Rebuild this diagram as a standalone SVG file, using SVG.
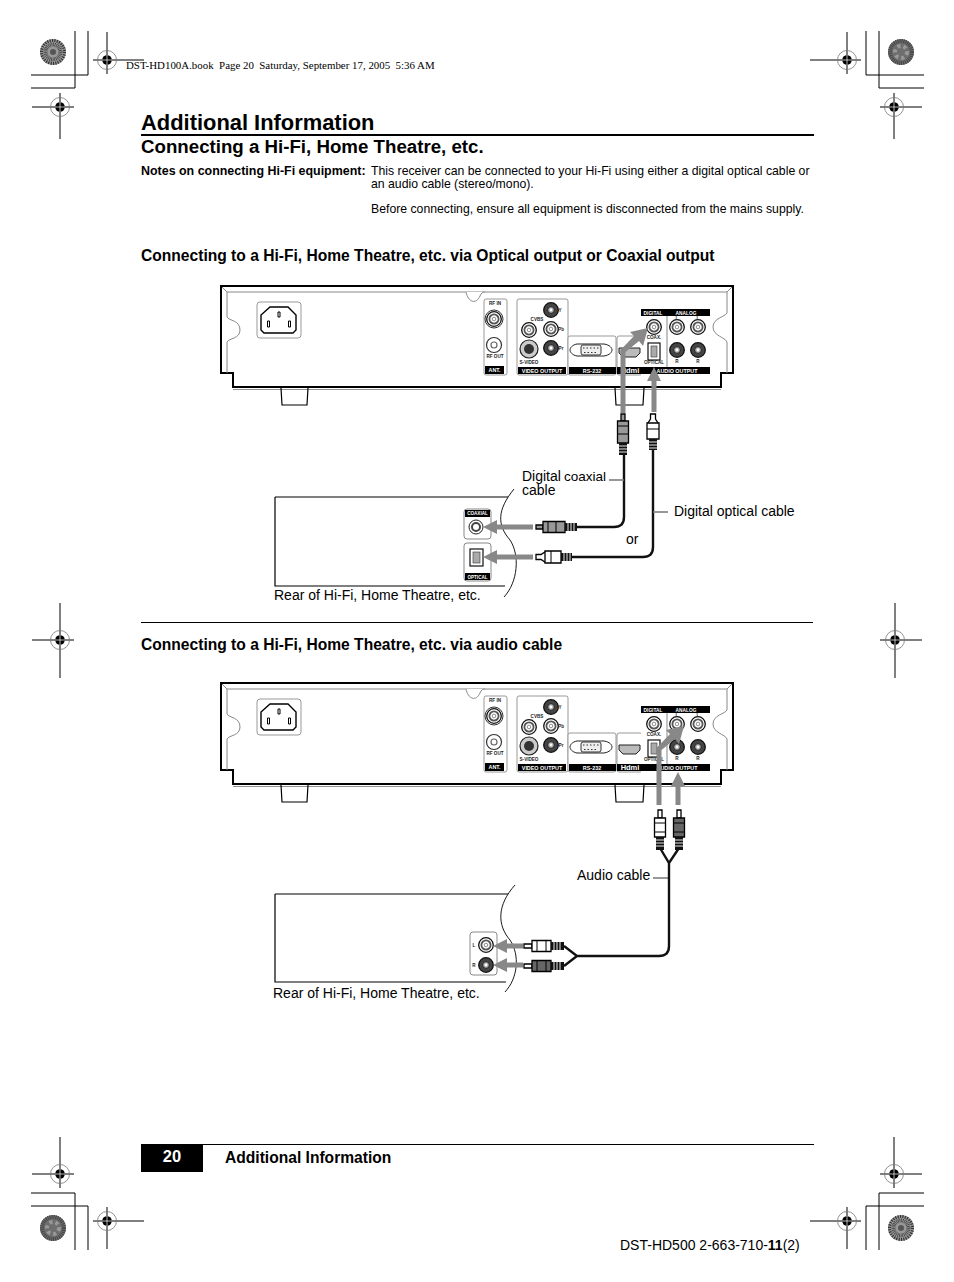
<svg xmlns="http://www.w3.org/2000/svg" xmlns:xlink="http://www.w3.org/1999/xlink" width="954" height="1282" viewBox="0 0 954 1282">
<style>
text{font-family:"Liberation Sans",Arial,sans-serif;fill:#000}
.b{font-weight:700}
.t{font-size:14px}
.n{font-size:12.25px}
.s{font-size:15.6px;font-weight:700}
.w{fill:#fff;font-weight:700;font-size:5.4px;text-anchor:middle}
.l{font-weight:700;font-size:4.6px;text-anchor:middle;fill:#222}
.k{stroke:#000;fill:none}
.g{stroke:#888;fill:none}
.c{stroke:#111;fill:none;stroke-width:2.4}
.lead{stroke:#777;fill:none;stroke-width:1.6}
.rb{fill:#fff;stroke:#000;stroke-width:1.3}
.rd{fill:#666;stroke:#000;stroke-width:1.3}
.rg{fill:#999;stroke:#000;stroke-width:1.3}
.ridge{fill:none;stroke:#fff;stroke-width:.9}
</style>
<defs>
<g id="mark"><circle r="9.5" fill="none" stroke="#777" stroke-width=".8"/><circle r="4.8" fill="#000"/><path d="M-5 0H5M0-5V5" stroke="#fff" stroke-width=".7"/></g>
<g id="jackL"><circle r="7.3" fill="#fff" stroke="#111" stroke-width="1.3"/><circle r="4.6" fill="none" stroke="#555" stroke-width="1.8"/><circle r="1.8" fill="#fff" stroke="#444" stroke-width=".6"/></g>
<g id="jackD"><circle r="7.3" fill="#444" stroke="#111" stroke-width="1.3"/><circle r="3.4" fill="#aaa" stroke="#222" stroke-width="1"/><circle r="1.4" fill="#fff"/></g>
<g id="rear">
<path d="M221 286H733V373H721V387H233V373H221Z" fill="#fff" stroke="#000" stroke-width="2"/>
<path d="M222 287L227 292H727L732 287" class="g"/>
<path d="M227 292V317C229 321 240 320 240 330C240 339 229 338 227 342V373M727 292V313C725 317 713 318 713 327C713 336 725 337 727 342V373" class="g"/>
<path d="M466 292C468 302 476 305 480 296C481 293 483 292 485 292" fill="#fff" stroke="#888"/>
<path d="M233 389.500H721" stroke="#777" stroke-width=".8"/>
<path d="M281 388L282 405H307L308 388M615 388L616 405H643L644 388" class="k" stroke-width="1.2"/>
<rect x="257" y="302" width="44" height="36" rx="3" fill="#fff" stroke="#999"/>
<path d="M270 307H288L296 315V330L293 333H264L261 330V315Z" fill="none" stroke="#000" stroke-width="1.4"/>
<path d="M278 312h2v5h-2zM267.500 321h2v6h-2zM288.500 321h2v6h-2z" fill="#fff" stroke="#000"/>
<rect x="484" y="299" width="23" height="76" rx="2" fill="#fff" stroke="#999"/>
<use xlink:href="#jackL" x="494" y="319"/><circle cx="494" cy="319" r="9" fill="none" stroke="#333"/>
<circle cx="494" cy="345" r="7.500" fill="#fff" stroke="#333" stroke-width="1.2"/><circle cx="494" cy="345" r="3" fill="#fff" stroke="#666" stroke-width="1.200"/>
<text x="495" y="305" class="l">RF IN</text><text x="495" y="358" class="l">RF OUT</text>
<rect x="485" y="366" width="19" height="8" fill="#000"/><text x="494.500" y="372" class="w">ANT.</text>
<rect x="517" y="299" width="51" height="76" rx="2" fill="#fff" stroke="#999"/>
<use xlink:href="#jackD" x="551" y="310"/><use xlink:href="#jackL" x="551" y="329"/><use xlink:href="#jackD" x="551" y="348"/><use xlink:href="#jackL" x="529" y="330"/>
<circle cx="529" cy="349" r="9" fill="#ccc" stroke="#222" stroke-width="1.2"/><circle cx="529" cy="349" r="5" fill="#333"/>
<text x="537" y="321" class="l">CVBS</text><text x="560" y="312" class="l">Y</text><text x="561" y="331" class="l">Pb</text><text x="561" y="350" class="l">Pr</text><text x="529" y="364" class="l">S-VIDEO</text>
<rect x="518" y="367" width="48" height="7" fill="#000"/><text x="542" y="372.500" class="w">VIDEO OUTPUT</text>
<rect x="568" y="336" width="48" height="39" rx="2" fill="#fff" stroke="#999"/>
<path d="M577 344H604C610 345 612 348 612 350C612 352 610 355 604 356H577C572 355 570 352 570 350C570 348 572 345 577 344Z" fill="#fff" stroke="#222"/>
<rect x="581" y="345" width="20" height="10" rx="2" fill="#eee" stroke="#333"/>
<path d="M583 348H599M584 352.500H598" stroke="#333" stroke-width="1.200" stroke-dasharray="1.500 2"/>
<rect x="569" y="367" width="47" height="7" fill="#000"/><text x="592" y="372.500" class="w">RS-232</text>
<rect x="617" y="336" width="25" height="39" rx="2" fill="#fff" stroke="#999"/>
<path d="M619 348H640V353L636 357H623L619 353Z" fill="#bbb" stroke="#222"/>
<rect x="617" y="367" width="25" height="7" fill="#000"/><text x="630" y="373" style="fill:#fff;font-size:7.500px;font-weight:700;text-anchor:middle">Hdmi</text>
<rect x="641" y="309" width="69" height="66" fill="#fff"/>
<rect x="641" y="309" width="69" height="7" fill="#000"/><rect x="641" y="367" width="69" height="7" fill="#000"/>
<path d="M667 316V367" stroke="#555" stroke-width=".7"/>
<text x="653" y="314.500" class="w" style="font-size:4.800px">DIGITAL</text><text x="686" y="314.500" class="w" style="font-size:4.800px">ANALOG</text>
<text x="677" y="372.500" class="w">AUDIO OUTPUT</text>
<use xlink:href="#jackL" x="654" y="327"/><use xlink:href="#jackL" x="677" y="327"/><use xlink:href="#jackL" x="698" y="327"/><use xlink:href="#jackD" x="677" y="350"/><use xlink:href="#jackD" x="698" y="350"/>
<rect x="648" y="343" width="12" height="17" fill="#fff" stroke="#111" stroke-width="1.200"/><rect x="651" y="346" width="6" height="11" fill="#aaa" stroke="#333" stroke-width=".6"/>
<text x="654" y="339" class="l">COAX.</text><text x="654" y="363.500" class="l">OPTICAL</text>
<text x="677" y="319.500" class="l">L</text><text x="698" y="319.500" class="l">L</text><text x="677" y="363" class="l">R</text><text x="698" y="363" class="l">R</text>
</g>
<g id="rca"><path d="M0-2H8V2H0Z" class="rb"/><path d="M8-5.500H27V5.500H8Z" class="rb"/><path d="M13-5.500V5.500M22-5.500V5.500" stroke="#000"/><path d="M27-4H40V4H27Z" fill="#111"/><path d="M30-4v8M33-4v8M36-4v8" class="ridge"/></g>
<g id="rcaD"><path d="M0-2H8V2H0Z" class="rb"/><path d="M8-5.500H27V5.500H8Z" class="rd"/><path d="M13-5.500V5.500M22-5.500V5.500" stroke="#000"/><path d="M27-4H40V4H27Z" fill="#111"/><path d="M30-4v8M33-4v8M36-4v8" class="ridge"/></g>
<g id="coax"><path d="M0-2H7V2H0Z" class="rg"/><path d="M7-5.500H29V5.500H7Z" class="rg"/><path d="M12-5.500V5.500M20-5.500V5.500" stroke="#000"/><path d="M29-4H41V4H29Z" fill="#111"/><path d="M32-4v8M35-4v8M38-4v8" class="ridge"/></g>
<g id="opt"><path d="M0-2.500H5L9-5H14V5H9L5 2.500H0Z" class="rb"/><path d="M9-6H25V6H9Z" class="rb"/><path d="M15-6V6" stroke="#000"/><path d="M25-4H36V4H25Z" fill="#111"/><path d="M28-4v8M31-4v8M34-4v8" class="ridge"/></g>
<g id="disc1"><circle r="13" fill="#999"/><circle r="11.500" fill="none" stroke="#333" stroke-width="3" stroke-dasharray="1.200 1.200"/><circle r="7.500" fill="none" stroke="#444" stroke-width="4" stroke-dasharray=".8 .8"/><circle r="3" fill="#555"/></g>
<g id="disc2"><circle r="13" fill="#6e6e6e"/><circle r="11" fill="none" stroke="#444" stroke-width="4" stroke-dasharray="1 1"/><circle r="6" fill="none" stroke="#999" stroke-width="4" stroke-dasharray="3 3"/></g>
</defs>

<g id="printer-marks">
<use xlink:href="#disc1" x="53" y="52"/><use xlink:href="#disc2" x="901" y="52"/><use xlink:href="#disc2" x="53" y="1228"/><use xlink:href="#disc1" x="901" y="1228"/>
<path class="k" d="M31 88H75V31M31 75H88V31M924 75H866V31M924 88H879V31M31 1193H75V1250M31 1206H88V1250M924 1193H879V1250M924 1206H866V1250"/>
<path class="k" d="M93 60H144M107 32V74M32 107H74M60 93V139M810 60H861M847 32V74M880 107H922M894 93V139M32 640H74M60 603V678M880 640H922M895 603V678M32 1174H74M60 1137V1188M93 1221H144M107 1207V1249M810 1221H861M847 1207V1249M880 1174H922M894 1137V1188"/>
<use xlink:href="#mark" x="107" y="60"/><use xlink:href="#mark" x="60" y="107"/><use xlink:href="#mark" x="847" y="60"/><use xlink:href="#mark" x="894" y="107"/><use xlink:href="#mark" x="60" y="640"/><use xlink:href="#mark" x="895" y="640"/><use xlink:href="#mark" x="60" y="1174"/><use xlink:href="#mark" x="107" y="1221"/><use xlink:href="#mark" x="847" y="1221"/><use xlink:href="#mark" x="894" y="1174"/>
<text x="126" y="69" style="font-family:'Liberation Serif',serif;font-size:10.900px;white-space:pre">DST-HD100A.book  Page 20  Saturday, September 17, 2005  5:36 AM</text>
</g>

<g id="text-top">
<text x="141" y="130" class="b" style="font-size:21.900px">Additional Information</text>
<path d="M141 135H814" stroke="#000" stroke-width="2"/>
<text x="141" y="153" class="b" style="font-size:18.700px">Connecting a Hi-Fi, Home Theatre, etc.</text>
<text x="141" y="175" class="b" style="font-size:12.450px">Notes on connecting Hi-Fi equipment:</text>
<text x="371" y="175" class="n">This receiver can be connected to your Hi-Fi using either a digital optical cable or</text>
<text x="371" y="188" class="n">an audio cable (stereo/mono).</text>
<text x="371" y="213" class="n">Before connecting, ensure all equipment is disconnected from the mains supply.</text>
<text x="141" y="261" class="s">Connecting to a Hi-Fi, Home Theatre, etc. via Optical output or Coaxial output</text>
<path d="M141 622.500H813" stroke="#000"/>
<text x="141" y="650" class="s">Connecting to a Hi-Fi, Home Theatre, etc. via audio cable</text>
</g>

<g id="rear-panel-top"><use xlink:href="#rear"/></g>
<g id="rear-panel-bottom"><use xlink:href="#rear" y="397"/></g>

<g id="hifi-top">
<path class="k" stroke-width="1.200" d="M275 497H510M275 497V586H510"/>
<path d="M514 489C497 510 497 525 510 540C520 555 518 582 504 597" fill="#fff" stroke="#000" stroke-width=".9"/>
<rect x="464" y="509" width="27" height="30" rx="3" fill="#fff" stroke="#888"/><rect x="465" y="510" width="25" height="7" fill="#000"/><text x="477.500" y="515" class="w" style="font-size:4.600px">COAXIAL</text>
<circle cx="476" cy="527" r="7" fill="#fff" stroke="#222"/><circle cx="476" cy="527" r="4" fill="none" stroke="#444" stroke-width="2"/>
<rect x="464" y="543" width="27" height="38" rx="3" fill="#fff" stroke="#888"/><rect x="465" y="573" width="25" height="7" fill="#000"/><text x="477.500" y="578.500" class="w" style="font-size:4.600px">OPTICAL</text>
<rect x="470" y="549" width="13" height="17" fill="#fff" stroke="#111" stroke-width="1.200"/><rect x="473" y="552" width="7" height="11" fill="#aaa" stroke="#333" stroke-width=".6"/>
<text x="274" y="600" class="t">Rear of Hi-Fi, Home Theatre, etc.</text>
</g>

<g id="hifi-bottom">
<path class="k" stroke-width="1.200" d="M275 894H510M275 894V982H510"/>
<path d="M515 885C497 905 497 925 510 940C520 955 518 978 505 992" fill="#fff" stroke="#000" stroke-width=".9"/>
<rect x="470" y="932" width="27" height="43" rx="3" fill="#fff" stroke="#888"/>
<use xlink:href="#jackL" x="486" y="945"/><use xlink:href="#jackD" x="486" y="965"/>
<text x="474" y="947" class="l">L</text><text x="474" y="967" class="l">R</text>
<text x="273" y="998" class="t">Rear of Hi-Fi, Home Theatre, etc.</text>
</g>

<g id="connectors">
<path class="c" d="M624 452V517Q624 527 614 527H576M653 448V547Q653 557 643 557H572"/>
<path class="lead" d="M609 480H624M653 512H668M653 878H669"/>
<path class="c" d="M669 863V946Q669 956 659 956H577M660 848L669 863L679 848M564 946L577 956L564 966"/>
<g fill="#888">
<path d="M620.500 413V350L634 336L630 332L648 328L643 346L639 341L625.500 352V413Z"/>
<path d="M651.500 412V381H647L654 367L661 381H656.500V412Z"/>
<path d="M533 524.500H497V520L483 527L497 534V529.500H533Z"/>
<path d="M533 554.500H497V550L483 557L497 564V559.500H533Z"/>
<path d="M656.500 805V748L670 734L666 730L684 726L679 744L675 739L661.500 750V805Z"/>
<path d="M675.500 805V786H671L678 772L685 786H680.500V805Z"/>
<path d="M523 943.500H507V939L493 946L507 953V948.500H523Z"/>
<path d="M523 962.500H507V958L493 965L507 972V967.500H523Z"/>
</g>
<use xlink:href="#coax" transform="translate(623 414) rotate(90)"/>
<use xlink:href="#opt" transform="translate(653 414) rotate(90)"/>
<use xlink:href="#coax" transform="translate(536 527)"/>
<use xlink:href="#opt" transform="translate(536 557)"/>
<use xlink:href="#rca" transform="translate(660 810) rotate(90)"/>
<use xlink:href="#rcaD" transform="translate(679 810) rotate(90)"/>
<use xlink:href="#rca" transform="translate(524 946)"/>
<use xlink:href="#rcaD" transform="translate(524 966)"/>
</g>

<g id="labels">
<text x="522" y="481" class="t">Digital</text><text x="564" y="481" class="t" style="font-size:13.500px">coaxial</text><text x="522" y="495" class="t">cable</text>
<text x="674" y="516" class="t">Digital optical cable</text>
<text x="626" y="544" class="t">or</text>
<text x="577" y="880" class="t">Audio cable</text>
</g>

<g id="footer">
<path d="M141 1144.500H814" stroke="#000"/>
<rect x="141" y="1144" width="62" height="28" fill="#000"/>
<text x="172" y="1162" class="b" style="font-size:16.500px;fill:#fff;text-anchor:middle">20</text>
<text x="225" y="1163" class="b" style="font-size:15.600px">Additional Information</text>
<text x="620" y="1250" style="font-size:14px">DST-HD500 2-663-710-<tspan class="b">11</tspan>(2)</text>
</g>
</svg>
